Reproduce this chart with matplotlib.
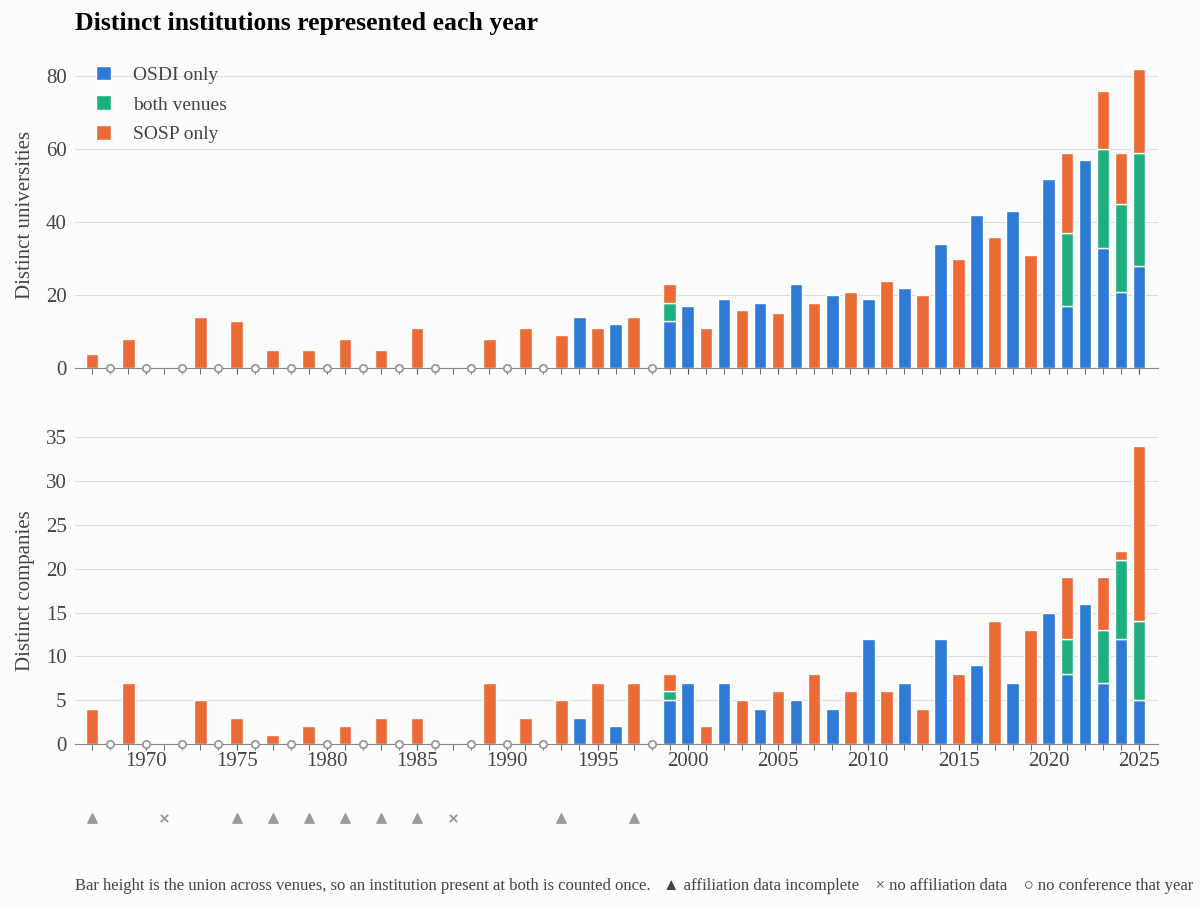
import matplotlib.pyplot as plt
import matplotlib.transforms as mtransforms
import numpy as np

plt.rcParams['font.family'] = ['Liberation Serif', 'DejaVu Serif']

years = list(range(1967, 2026))
no_conf = [1968, 1970, 1972, 1974, 1976, 1978, 1980, 1982, 1984, 1986, 1988, 1990, 1992, 1998]
incomplete = [1967, 1975, 1977, 1979, 1981, 1983, 1985, 1993, 1997]
no_data = [1971, 1987]

# universities: year -> (OSDI only, both, SOSP only)
uni = {
    1967: (0, 0, 4), 1969: (0, 0, 8), 1973: (0, 0, 14), 1975: (0, 0, 13), 1977: (0, 0, 5),
    1979: (0, 0, 5), 1981: (0, 0, 8), 1983: (0, 0, 5), 1985: (0, 0, 11), 1989: (0, 0, 8),
    1991: (0, 0, 11), 1993: (0, 0, 9), 1994: (14, 0, 0), 1995: (0, 0, 11), 1996: (12, 0, 0),
    1997: (0, 0, 14), 1999: (13, 5, 5), 2000: (17, 0, 0), 2001: (0, 0, 11), 2002: (19, 0, 0),
    2003: (0, 0, 16), 2004: (18, 0, 0), 2005: (0, 0, 15), 2006: (23, 0, 0), 2007: (0, 0, 18),
    2008: (20, 0, 0), 2009: (0, 0, 21), 2010: (19, 0, 0), 2011: (0, 0, 24), 2012: (22, 0, 0),
    2013: (0, 0, 20), 2014: (34, 0, 0), 2015: (0, 0, 30), 2016: (42, 0, 0), 2017: (0, 0, 36),
    2018: (43, 0, 0), 2019: (0, 0, 31), 2020: (52, 0, 0), 2021: (17, 20, 22), 2022: (57, 0, 0),
    2023: (33, 27, 16), 2024: (21, 24, 14), 2025: (28, 31, 23),
}
# companies
comp = {
    1967: (0, 0, 4), 1969: (0, 0, 7), 1973: (0, 0, 5), 1975: (0, 0, 3), 1977: (0, 0, 1),
    1979: (0, 0, 2), 1981: (0, 0, 2), 1983: (0, 0, 3), 1985: (0, 0, 3), 1989: (0, 0, 7),
    1991: (0, 0, 3), 1993: (0, 0, 5), 1994: (3, 0, 0), 1995: (0, 0, 7), 1996: (2, 0, 0),
    1997: (0, 0, 7), 1999: (5, 1, 2), 2000: (7, 0, 0), 2001: (0, 0, 2), 2002: (7, 0, 0),
    2003: (0, 0, 5), 2004: (4, 0, 0), 2005: (0, 0, 6), 2006: (5, 0, 0), 2007: (0, 0, 8),
    2008: (4, 0, 0), 2009: (0, 0, 6), 2010: (12, 0, 0), 2011: (0, 0, 6), 2012: (7, 0, 0),
    2013: (0, 0, 4), 2014: (12, 0, 0), 2015: (0, 0, 8), 2016: (9, 0, 0), 2017: (0, 0, 14),
    2018: (7, 0, 0), 2019: (0, 0, 13), 2020: (15, 0, 0), 2021: (8, 4, 7), 2022: (16, 0, 0),
    2023: (7, 6, 6), 2024: (12, 9, 1), 2025: (5, 9, 20),
}

labels = ['OSDI only', 'both venues', 'SOSP only']
colors = ['#2f7ad6', '#1db07e', '#ec6a35']
bg = '#fcfcfc'
txt = '#444444'

fig = plt.figure(figsize=(12, 9.09), dpi=100, facecolor=bg)
ax1 = fig.add_axes([0.0625, 0.595, 0.9025, 0.337])
ax2 = fig.add_axes([0.0625, 0.1815, 0.9025, 0.3375])


def draw(ax, data, ymax, yticks, ylabel):
    ax.set_facecolor(bg)
    xs = np.array(sorted(data))
    vals = np.array([data[y] for y in xs])
    bottom = np.zeros(len(xs))
    for i in range(3):
        v = vals[:, i]
        m = v > 0
        ax.bar(xs[m], v[m], bottom=bottom[m], width=0.7, color=colors[i],
               edgecolor='white', linewidth=1, label=labels[i], zorder=3)
        bottom += v
    ax.scatter(no_conf, np.zeros(len(no_conf)), s=28, facecolor=bg, edgecolor='#999999',
               linewidth=1.3, zorder=4, clip_on=False)
    ax.set_xlim(1966.05, 2026.05)
    ax.set_ylim(0, ymax)
    ax.set_yticks(yticks)
    ax.grid(axis='y', color='#dddddd', linewidth=0.8, zorder=0)
    for s in ['top', 'right', 'left']:
        ax.spines[s].set_visible(False)
    ax.spines['bottom'].set_color('#888888')
    ax.set_xticks(years, minor=True)
    ax.tick_params(axis='x', which='minor', length=4, color='#555555')
    ax.tick_params(axis='y', length=0, labelsize=15, labelcolor=txt, pad=6)
    ax.tick_params(axis='x', which='major', length=4, color='#555555', labelsize=15, labelcolor=txt, pad=2)
    ax.set_ylabel(ylabel, fontsize=15, color=txt, labelpad=8)


draw(ax1, uni, 84, [0, 20, 40, 60, 80], 'Distinct universities')
ax1.set_xticks(range(1970, 2026, 5))
ax1.set_xticklabels([])
draw(ax2, comp, 35, [0, 5, 10, 15, 20, 25, 30, 35], 'Distinct companies')
ax2.set_xticks(range(1970, 2026, 5))

ax1.legend(loc='upper left', bbox_to_anchor=(0.003, 1.045), frameon=False, fontsize=14,
           labelcolor=txt, handlelength=0.8, handleheight=0.8, handletextpad=1.1,
           labelspacing=0.6)

trans = mtransforms.blended_transform_factory(ax2.transData, ax2.transAxes)
ax2.scatter(incomplete, [-0.241] * len(incomplete), marker='^', s=45, color='#999999',
            transform=trans, clip_on=False)
ax2.scatter(no_data, [-0.241] * len(no_data), marker='x', s=28, color='#999999',
            linewidth=1.3, transform=trans, clip_on=False)

fig.text(0.0625, 0.974, 'Distinct institutions represented each year', fontsize=18.5,
         fontweight='bold', color='black', va='center')
fig.text(0.0625, 0.025, 'Bar height is the union across venues, so an institution present at both is counted once.'
         '   \u25b2 affiliation data incomplete    \u00d7 no affiliation data    \u25cb no conference that year',
         fontsize=12, color=txt, va='center')

fig.savefig('out.png', dpi=100, facecolor=bg)
